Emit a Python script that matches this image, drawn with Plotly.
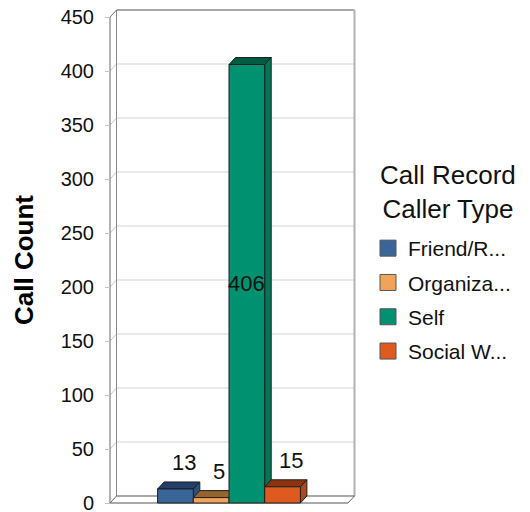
import plotly.graph_objects as go

# data
caller_types = ["Friend/R...", "Organiza...", "Self", "Social W..."]
call_counts = [13, 5, 406, 15]
front_colors = ["#3A6599", "#F2A35A", "#009270", "#DF5A1E"]
top_colors = ["#223F68", "#96642E", "#005B43", "#8B3412"]
side_colors = ["#2B4E80", "#C07F3E", "#007858", "#AE4719"]
y_ticks = [0, 50, 100, 150, 200, 250, 300, 350, 400, 450]

W, H = 530, 512
OFF = 8  # page body margin the figure sits behind
FONT = "Liberation Sans, Arial, sans-serif"

def px(x):
    return (x - OFF) / W

def py(y):
    return (H - (y - OFF)) / H

# pixel frame of the front plane and the depth offset of the 3d box
FL, FR, FB, FT = 110, 348, 503, 17
DX, DY = 6.5, 7.0
PAD = 3

n = len(call_counts)
ymax = y_ticks[-1]
half = (n / 0.6 - n) / 2
x0, x1 = -0.5 - half, n - 0.5 + half
px_x = (FR - FL) / (x1 - x0)
px_y = (FB - FT) / ymax
dx = DX / px_x
dy = DY / px_y

fig = go.Figure()

def line(xs, ys, color, width=1):
    fig.add_trace(go.Scatter(x=xs, y=ys, mode="lines", line=dict(color=color, width=width),
                             hoverinfo="skip", showlegend=False, xaxis="x", yaxis="y"))

# back wall gridlines + the little diagonals from the front ticks
for v in y_ticks[1:-1]:
    line([x0 + dx, x1 + dx], [v + dy, v + dy], "#d3d3e3")
    line([x0, x0 + dx], [v, v + dy], "#c4c4d4")

# box frame
line([x0 + dx, x1 + dx], [ymax + dy, ymax + dy], "#a8a8a8", 2)
line([x1 + dx, x1 + dx], [dy, ymax + dy], "#b4b4b4", 2)
line([x0 + dx, x0 + dx], [dy, ymax + dy], "#8a8a8a")
line([x0 + dx, x1 + dx], [dy, dy], "#555555")
line([x0, x1], [0, 0], "#555555")
line([x0, x0], [0, ymax], "#666666")
line([x0, x0 + dx], [0, dy], "#666666")
line([x1, x1 + dx], [0, dy], "#666666")
line([x0, x0 + dx], [ymax, ymax + dy], "#777777")

# side faces first, then top faces (front faces sit on the overlay axis above)
for i, v in enumerate(call_counts):
    fig.add_trace(go.Scatter(
        x=[i + 0.5, i + 0.5, i + 0.5 + dx, i + 0.5 + dx, i + 0.5],
        y=[0, v, v + dy, dy, 0],
        fill="toself", fillcolor=side_colors[i], mode="lines",
        line=dict(color="#1e1e1e", width=1), hoverinfo="skip", showlegend=False))
for i, v in enumerate(call_counts):
    fig.add_trace(go.Scatter(
        x=[i - 0.5, i + 0.5, i + 0.5 + dx, i - 0.5 + dx, i - 0.5],
        y=[v, v, v + dy, v + dy, v],
        fill="toself", fillcolor=top_colors[i], mode="lines",
        line=dict(color="#1e1e1e", width=1), hoverinfo="skip", showlegend=False))

for i, (name, v) in enumerate(zip(caller_types, call_counts)):
    fig.add_trace(go.Bar(
        x=[i], y=[v], width=[1], name=name, legendgroup=name,
        marker=dict(color=front_colors[i], line=dict(color="#1e1e1e", width=1)),
        showlegend=False, xaxis="x2", yaxis="y2",
        hovertemplate=name + ": %{y}<extra></extra>"))
    # legend swatch
    fig.add_trace(go.Scatter(
        x=[None], y=[None], mode="markers", name=name, legendgroup=name,
        marker=dict(symbol="square", size=16, color=front_colors[i],
                    line=dict(color="#555555", width=1))))

# value labels
vmax = max(call_counts)
for i, v in enumerate(call_counts):
    if v > 0.25 * vmax:
        fig.add_annotation(x=i, y=v / 2, xref="x", yref="y", text=str(v), showarrow=False,
                           font=dict(family=FONT, size=22, color="#111111"))
    else:
        fig.add_annotation(x=i + dx / 2, y=v + dy, xref="x", yref="y", text=str(v), showarrow=False,
                           yanchor="bottom", xshift=5, yshift=5,
                           font=dict(family=FONT, size=22, color="#111111"))

fig.add_annotation(x=px(24), y=py(260), xref="paper", yref="paper", text="<b>Call Count</b>",
                   textangle=-90, showarrow=False, xanchor="center", yanchor="middle",
                   font=dict(family=FONT, size=26, color="#000000"))

# legend title
fig.add_annotation(x=px(448), y=py(192), xref="paper", yref="paper",
                   text="Call Record<br>Caller Type", showarrow=False,
                   xanchor="center", yanchor="middle", align="center",
                   font=dict(family=FONT, size=26, color="#111111"))

# plot area in page pixels, kept inside the figure
top_px = max(FT - DY - PAD, OFF)
xr = [x0 - PAD / px_x, x1 + dx + PAD / px_x]
yr = [-PAD / px_y, ymax + (FT - top_px) / px_y]
xdom = [px(FL - PAD), px(FR + DX + PAD)]
ydom = [py(FB + PAD), py(top_px)]

fig.update_layout(
    template="none",
    autosize=False, width=W, height=H,
    margin=dict(l=0, r=0, t=0, b=0),
    paper_bgcolor="white", plot_bgcolor="rgba(0,0,0,0)",
    font=dict(family=FONT, color="#111111"),
    barmode="overlay",
    xaxis=dict(domain=xdom, range=xr, visible=False, fixedrange=True),
    yaxis=dict(domain=ydom, range=yr, anchor="free", position=px(FL),
               tickmode="array", tickvals=y_ticks, ticks="outside", ticklen=5,
               tickcolor="#c4c4d4", showgrid=False, zeroline=False, showline=False,
               ticklabelstandoff=7, ticklabeloverflow="allow",
               tickfont=dict(family=FONT, size=20, color="#111111"), automargin=False,
               fixedrange=True),
    xaxis2=dict(overlaying="x", range=xr, visible=False, fixedrange=True),
    yaxis2=dict(overlaying="y", range=yr, visible=False, fixedrange=True),
    legend=dict(x=px(368), y=py(228), xanchor="left", yanchor="top",
                font=dict(family=FONT, size=21, color="#111111"),
                tracegroupgap=4, bgcolor="rgba(0,0,0,0)"),
)

fig.write_html("out.html")
